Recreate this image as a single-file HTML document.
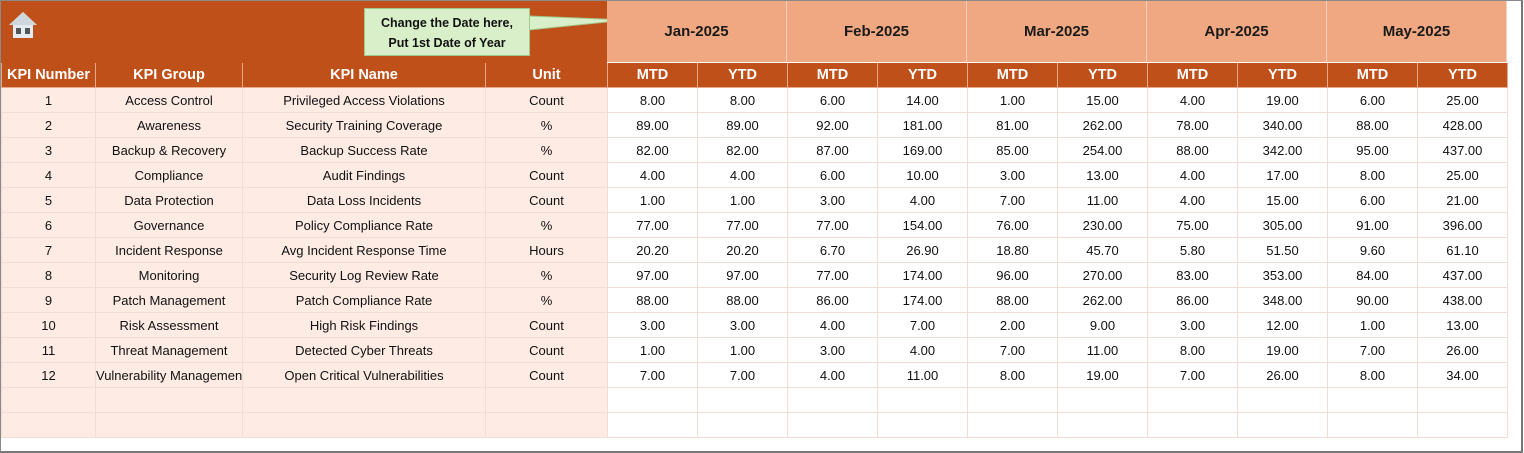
<!DOCTYPE html>
<html><head><meta charset="utf-8"><style>
body{margin:0;width:1524px;height:453px;background:#fff;position:relative;overflow:hidden;font-family:"Liberation Sans",sans-serif}
.frame{position:absolute;left:0;top:0;width:1520px;height:450px;border:1px solid #8a8a8a;border-right:2px solid #777;border-bottom:2px solid #777}
.band{position:absolute;left:1px;top:1px;width:606px;height:62px;background:#C0501A}
.mon{position:absolute;top:1px;height:61px;width:179px;background:#F0A882;border-right:1px solid #f7d2bf;font-weight:bold;font-size:15px;color:#1a1a1a;text-align:center;line-height:61px}
table{position:absolute;left:1px;top:63px;width:1506px;border-collapse:collapse;table-layout:fixed;font-size:13px;color:#111}
td,th{height:24px;padding:0;text-align:center;white-space:nowrap;overflow:hidden;border:1px solid #F1DDD3}
th{background:#C0501A;color:#fff;font-size:14.5px;border:1px solid #e9a989;border-top:none}
td.p{background:#FDEBE4}
.call{position:absolute;left:364px;top:8px;width:166px;height:48px;background:#D9EFC9;border:1px solid #9FC98D;font-weight:bold;font-size:12.5px;text-align:center;line-height:20px;padding-top:4px;box-sizing:border-box;color:#111}
</style></head><body>
<div class="band"></div>
<svg style="position:absolute;left:0;top:0" width="640" height="63">
<polygon points="529,16 626,20 529,30" fill="#D9EFC9" stroke="#9FC98D"/>
<g transform="translate(9,12)"><polygon points="14,0 0,13 4,13 4,26 24,26 24,13 28,13" fill="#e4ecf2"/><polygon points="14,0 0,13 28,13" fill="#cfd6dc"/><rect x="7" y="16" width="5" height="6" fill="#555"/><rect x="16" y="16" width="5" height="6" fill="#555"/></g>
</svg>
<div class="call">Change the Date here,<br>Put 1st Date of Year</div>
<div class="mon" style="left:607px">Jan-2025</div>
<div class="mon" style="left:787px">Feb-2025</div>
<div class="mon" style="left:967px">Mar-2025</div>
<div class="mon" style="left:1147px">Apr-2025</div>
<div class="mon" style="left:1327px">May-2025</div>
<table>
<colgroup><col style="width:94px"><col style="width:147px"><col style="width:243px"><col style="width:122px"><col span="10" style="width:90px"></colgroup>
<tr><th>KPI Number</th><th>KPI Group</th><th>KPI Name</th><th>Unit</th><th>MTD</th><th>YTD</th><th>MTD</th><th>YTD</th><th>MTD</th><th>YTD</th><th>MTD</th><th>YTD</th><th>MTD</th><th>YTD</th></tr>
<tr><td class="p">1</td><td class="p">Access Control</td><td class="p">Privileged Access Violations</td><td class="p">Count</td><td>8.00</td><td>8.00</td><td>6.00</td><td>14.00</td><td>1.00</td><td>15.00</td><td>4.00</td><td>19.00</td><td>6.00</td><td>25.00</td></tr>
<tr><td class="p">2</td><td class="p">Awareness</td><td class="p">Security Training Coverage</td><td class="p">%</td><td>89.00</td><td>89.00</td><td>92.00</td><td>181.00</td><td>81.00</td><td>262.00</td><td>78.00</td><td>340.00</td><td>88.00</td><td>428.00</td></tr>
<tr><td class="p">3</td><td class="p">Backup &amp; Recovery</td><td class="p">Backup Success Rate</td><td class="p">%</td><td>82.00</td><td>82.00</td><td>87.00</td><td>169.00</td><td>85.00</td><td>254.00</td><td>88.00</td><td>342.00</td><td>95.00</td><td>437.00</td></tr>
<tr><td class="p">4</td><td class="p">Compliance</td><td class="p">Audit Findings</td><td class="p">Count</td><td>4.00</td><td>4.00</td><td>6.00</td><td>10.00</td><td>3.00</td><td>13.00</td><td>4.00</td><td>17.00</td><td>8.00</td><td>25.00</td></tr>
<tr><td class="p">5</td><td class="p">Data Protection</td><td class="p">Data Loss Incidents</td><td class="p">Count</td><td>1.00</td><td>1.00</td><td>3.00</td><td>4.00</td><td>7.00</td><td>11.00</td><td>4.00</td><td>15.00</td><td>6.00</td><td>21.00</td></tr>
<tr><td class="p">6</td><td class="p">Governance</td><td class="p">Policy Compliance Rate</td><td class="p">%</td><td>77.00</td><td>77.00</td><td>77.00</td><td>154.00</td><td>76.00</td><td>230.00</td><td>75.00</td><td>305.00</td><td>91.00</td><td>396.00</td></tr>
<tr><td class="p">7</td><td class="p">Incident Response</td><td class="p">Avg Incident Response Time</td><td class="p">Hours</td><td>20.20</td><td>20.20</td><td>6.70</td><td>26.90</td><td>18.80</td><td>45.70</td><td>5.80</td><td>51.50</td><td>9.60</td><td>61.10</td></tr>
<tr><td class="p">8</td><td class="p">Monitoring</td><td class="p">Security Log Review Rate</td><td class="p">%</td><td>97.00</td><td>97.00</td><td>77.00</td><td>174.00</td><td>96.00</td><td>270.00</td><td>83.00</td><td>353.00</td><td>84.00</td><td>437.00</td></tr>
<tr><td class="p">9</td><td class="p">Patch Management</td><td class="p">Patch Compliance Rate</td><td class="p">%</td><td>88.00</td><td>88.00</td><td>86.00</td><td>174.00</td><td>88.00</td><td>262.00</td><td>86.00</td><td>348.00</td><td>90.00</td><td>438.00</td></tr>
<tr><td class="p">10</td><td class="p">Risk Assessment</td><td class="p">High Risk Findings</td><td class="p">Count</td><td>3.00</td><td>3.00</td><td>4.00</td><td>7.00</td><td>2.00</td><td>9.00</td><td>3.00</td><td>12.00</td><td>1.00</td><td>13.00</td></tr>
<tr><td class="p">11</td><td class="p">Threat Management</td><td class="p">Detected Cyber Threats</td><td class="p">Count</td><td>1.00</td><td>1.00</td><td>3.00</td><td>4.00</td><td>7.00</td><td>11.00</td><td>8.00</td><td>19.00</td><td>7.00</td><td>26.00</td></tr>
<tr><td class="p">12</td><td class="p" style="text-align:right">Vulnerability Management</td><td class="p">Open Critical Vulnerabilities</td><td class="p">Count</td><td>7.00</td><td>7.00</td><td>4.00</td><td>11.00</td><td>8.00</td><td>19.00</td><td>7.00</td><td>26.00</td><td>8.00</td><td>34.00</td></tr>
<tr><td class="p"></td><td class="p"></td><td class="p"></td><td class="p"></td><td></td><td></td><td></td><td></td><td></td><td></td><td></td><td></td><td></td><td></td></tr>
<tr><td class="p"></td><td class="p"></td><td class="p"></td><td class="p"></td><td></td><td></td><td></td><td></td><td></td><td></td><td></td><td></td><td></td><td></td></tr>
</table>
<div class="frame"></div>
</body></html>
